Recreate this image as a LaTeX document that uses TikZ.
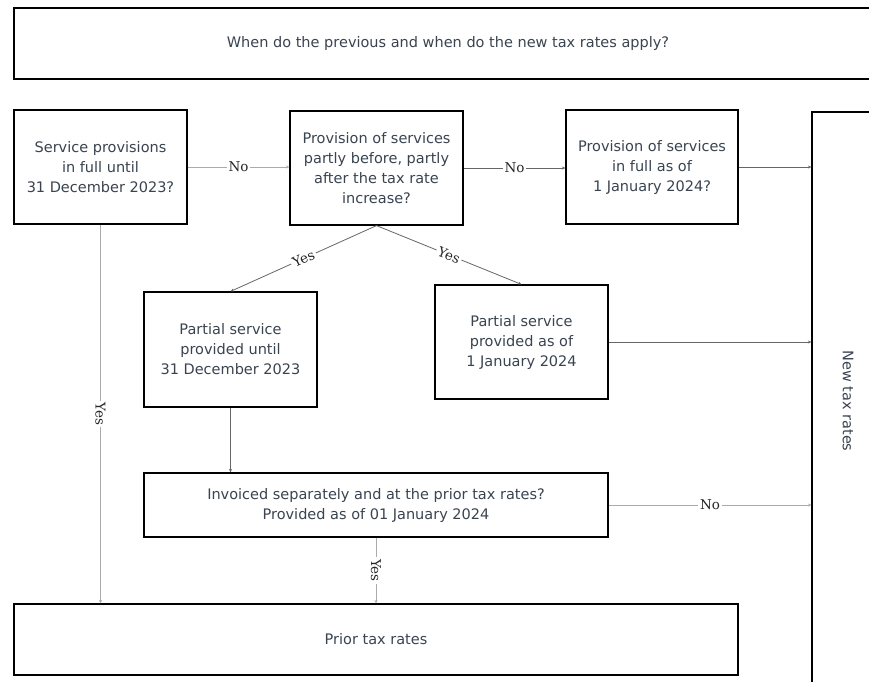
\documentclass[tikz,border=0pt]{standalone}
\usepackage{fontspec}
\setmainfont{DejaVu Sans}
\newfontfamily\lblfont{DejaVu Serif}
\usetikzlibrary{arrows.meta}
\definecolor{txt}{HTML}{3A4450}
\definecolor{lightln}{HTML}{ABABAB}
\definecolor{darkln}{HTML}{666666}
\tikzset{
  box/.style={draw=black, line width=1.2pt, fill=white, inner sep=0pt, align=center,
    text=txt, font=\fontsize{14.5}{20}\selectfont},
  conn/.style={line width=0.8pt, -{Stealth[length=3.5pt,width=3pt]}},
  lconn/.style={conn, draw=lightln},
  dconn/.style={conn, draw=darkln},
  lbl/.style={fill=white, inner sep=2pt, text=black!85, font=\lblfont\fontsize{13.5}{15}\selectfont},
}
\begin{document}
\begin{tikzpicture}[x=1pt,y=-1pt]
\clip (0,0) rectangle (869,681);
\fill[white] (0,0) rectangle (869,681);
\node[box, minimum width=868pt, minimum height=71pt] (top) at (448,43.5) {When do the previous and when do the new tax rates apply?};
\node[box, minimum width=72pt, minimum height=578pt] (R) at (848,401) {};
\node[text=txt, rotate=-90, font=\fontsize{14.5}{20}\selectfont] (Rt) at (848,401) {New tax rates};
\node[box, minimum width=173pt, minimum height=114pt] (A) at (100.5,167) {Service provisions\\in full until\\31 December 2023?};
\node[box, minimum width=173pt, minimum height=114pt] (B) at (376.5,168) {Provision of services\\partly before, partly\\after the tax rate\\increase?};
\node[box, minimum width=172pt, minimum height=114pt] (C) at (652,167) {Provision of services\\in full as of\\1 January 2024?};
\node[box, minimum width=173pt, minimum height=115pt] (D) at (230.5,349.5) {Partial service\\provided until\\31 December 2023};
\node[box, minimum width=173pt, minimum height=114pt] (E) at (521.5,342) {Partial service\\provided as of\\1 January 2024};
\node[box, minimum width=464pt, minimum height=64pt] (F) at (376,505) {Invoiced separately and at the prior tax rates?\\Provided as of 01 January 2024};
\node[box, minimum width=724pt, minimum height=71pt] (P) at (376,639.5) {Prior tax rates};

\draw[lconn] (A.east) -- node[lbl] {No} (A.east -| B.west);
\draw[dconn] (B.west -| B.east) -- node[lbl] {No} (B.east -| C.west);
\draw[dconn] (C.east) -- (C.east -| R.west);
\draw[dconn] (B.south) -- node[lbl, sloped] {Yes} (D.north);
\draw[dconn] (B.south) -- node[lbl, sloped] {Yes} (E.north);
\draw[dconn] (E.east) -- (E.east -| R.west);
\draw[dconn] (D.south) -- (D.south |- F.north);
\draw[lconn] (F.east) -- node[lbl] {No} (F.east -| R.west);
\draw[lconn] (F.south) -- node[lbl, rotate=-90] {Yes} (F.south |- P.north);
\draw[lconn] (A.south) -- node[lbl, rotate=-90] {Yes} (A.south |- P.north);
\end{tikzpicture}
\end{document}
